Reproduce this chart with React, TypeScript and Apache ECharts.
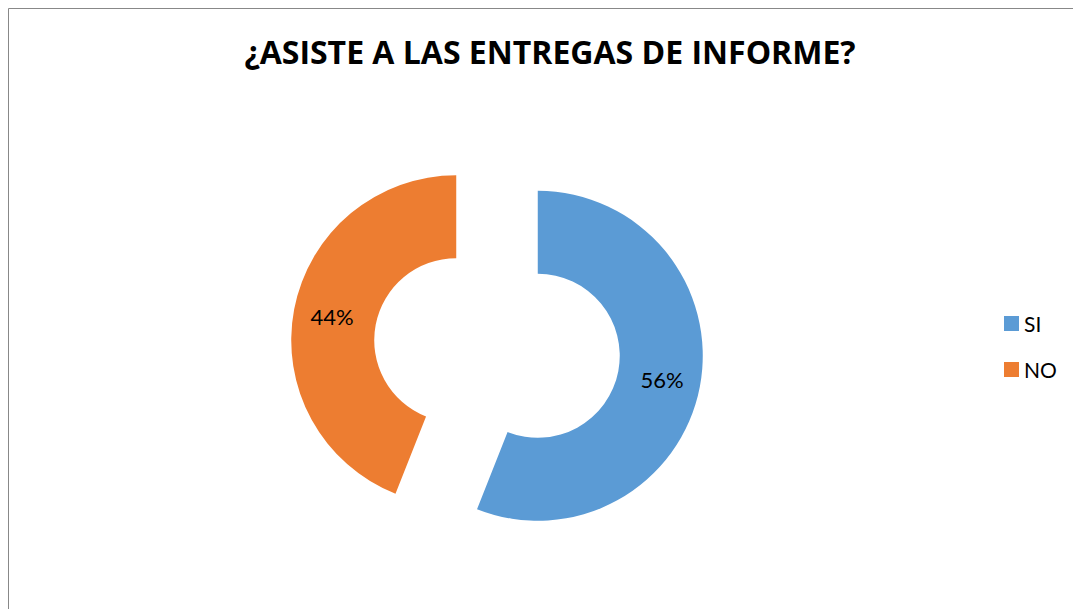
import React, { useEffect, useRef } from "react";
import * as echarts from "echarts";

const categories = ["SI", "NO"];
const values = [56, 44];
const colors = ["#5B9BD5", "#ED7D31"];
const title = "¿ASISTE A LAS ENTREGAS DE INFORME?";

export default function App() {
  const ref = useRef<HTMLDivElement>(null);
  useEffect(() => {
    if (!ref.current) return;
    const chart = echarts.init(ref.current, undefined, { renderer: "svg" });
    chart.setOption({
      animation: false,
      backgroundColor: "#ffffff",
      title: {
        text: title,
        left: 545,
        textAlign: "center",
        top: 30,
        textStyle: { fontFamily: "Open Sans", fontWeight: "bold", fontSize: 32, color: "#000" },
      },
      legend: {
        orient: "vertical",
        left: 999,
        top: 308,
        itemWidth: 15,
        itemHeight: 15,
        itemGap: 25,
        icon: "rect",
        data: categories,
        textStyle: { fontFamily: "Lato", fontSize: 21, color: "#000" },
      },
      graphic: [
        { type: "line", shape: { x1: 8.5, y1: 8.5, x2: 1073, y2: 8.5 }, style: { stroke: "#888", lineWidth: 1 } },
        { type: "line", shape: { x1: 8.5, y1: 8.5, x2: 8.5, y2: 609 }, style: { stroke: "#888", lineWidth: 1 } },
      ],
      series: [
        {
          type: "pie",
          center: [497, 348],
          radius: [82, 165],
          startAngle: 90,
          clockwise: true,
          selectedMode: "multiple",
          selectedOffset: 41.5,
          label: {
            show: true,
            position: "inside",
            formatter: (p: any) => `${p.value}%`,
            fontFamily: "Lato",
            fontSize: 22,
            color: "#000",
          },
          labelLine: { show: false },
          emphasis: { disabled: true },
          data: categories.map((c, i) => ({
            name: c,
            value: values[i],
            selected: true,
            itemStyle: { color: colors[i] },
          })),
        },
      ],
    });
    return () => chart.dispose();
  }, []);
  return (
    <div
      ref={ref}
      style={{ position: "fixed", left: 0, top: 0, width: 1073, height: 609 }}
    />
  );
}
